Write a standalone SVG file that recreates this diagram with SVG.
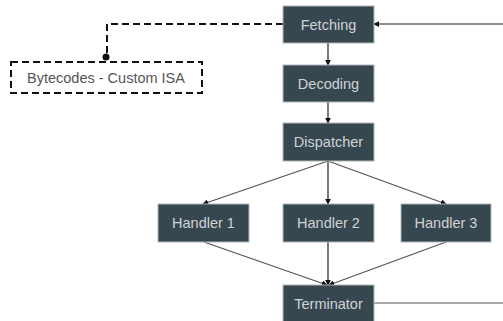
<svg xmlns="http://www.w3.org/2000/svg" width="503" height="321" viewBox="0 0 503 321">
  <style>
    .box { fill: #37474f; stroke: #b0b8bb; stroke-width: 1; }
    .lbl { font-family: "Liberation Sans", Arial, sans-serif; font-size: 14.5px; fill: #cfd3d5; text-anchor: middle; dominant-baseline: central; }
    .edge { fill: none; stroke: #222; stroke-width: 1.2; }
    .soft { stroke: #555; }
    .dash { fill: none; stroke: #111; stroke-width: 2; stroke-dasharray: 7 4; }
  </style>
  <defs>
    <marker id="arrow" viewBox="0 0 8 8" refX="7" refY="4" markerWidth="6" markerHeight="6" orient="auto" markerUnits="userSpaceOnUse">
      <path d="M0,0 L8,4 L0,8 z" fill="#111"/>
    </marker>
  </defs>
  <rect width="503" height="321" fill="#ffffff"/>

  <g id="connectors">
    <line class="edge" x1="503" y1="24" x2="374" y2="24" marker-end="url(#arrow)"/>
    <line class="edge" x1="328" y1="43" x2="328" y2="65" marker-end="url(#arrow)"/>
    <line class="edge" x1="328" y1="102" x2="328" y2="123" marker-end="url(#arrow)"/>
    <line class="edge soft" x1="328" y1="161" x2="203" y2="204" marker-end="url(#arrow)"/>
    <line class="edge" x1="328" y1="161" x2="328" y2="204" marker-end="url(#arrow)"/>
    <line class="edge soft" x1="328" y1="161" x2="446" y2="204" marker-end="url(#arrow)"/>
    <line class="edge soft" x1="204" y1="242" x2="327" y2="285" marker-end="url(#arrow)"/>
    <line class="edge" x1="328" y1="242" x2="328" y2="285" marker-end="url(#arrow)"/>
    <line class="edge soft" x1="446" y1="242" x2="329" y2="285" marker-end="url(#arrow)"/>
    <line class="edge soft" x1="373" y1="303" x2="503" y2="303"/>
    <polyline class="dash" points="283,24 107,24 107,57"/>
    <circle cx="106" cy="57" r="3.5" fill="#111"/>
  </g>

  <g id="bytecodes">
    <rect class="dash" x="11" y="62" width="191" height="31"/>
    <text class="lbl" x="106" y="78" style="fill:#555">Bytecodes - Custom ISA</text>
  </g>
  <g id="fetching">
    <rect class="box" x="283" y="6" width="91" height="37"/>
    <text class="lbl" x="328.5" y="24.5">Fetching</text>
  </g>
  <g id="decoding">
    <rect class="box" x="283" y="65" width="91" height="37"/>
    <text class="lbl" x="328.5" y="83.5">Decoding</text>
  </g>
  <g id="dispatcher">
    <rect class="box" x="283" y="123" width="91" height="38"/>
    <text class="lbl" x="328.5" y="142">Dispatcher</text>
  </g>
  <g id="handler1">
    <rect class="box" x="158" y="204" width="91" height="38"/>
    <text class="lbl" x="203.5" y="223">Handler 1</text>
  </g>
  <g id="handler2">
    <rect class="box" x="283" y="204" width="91" height="38"/>
    <text class="lbl" x="328.5" y="223">Handler 2</text>
  </g>
  <g id="handler3">
    <rect class="box" x="401" y="204" width="90" height="38"/>
    <text class="lbl" x="446" y="223">Handler 3</text>
  </g>
  <g id="terminator">
    <rect class="box" x="283" y="285" width="91" height="40"/>
    <text class="lbl" x="328.5" y="304">Terminator</text>
  </g>
</svg>
